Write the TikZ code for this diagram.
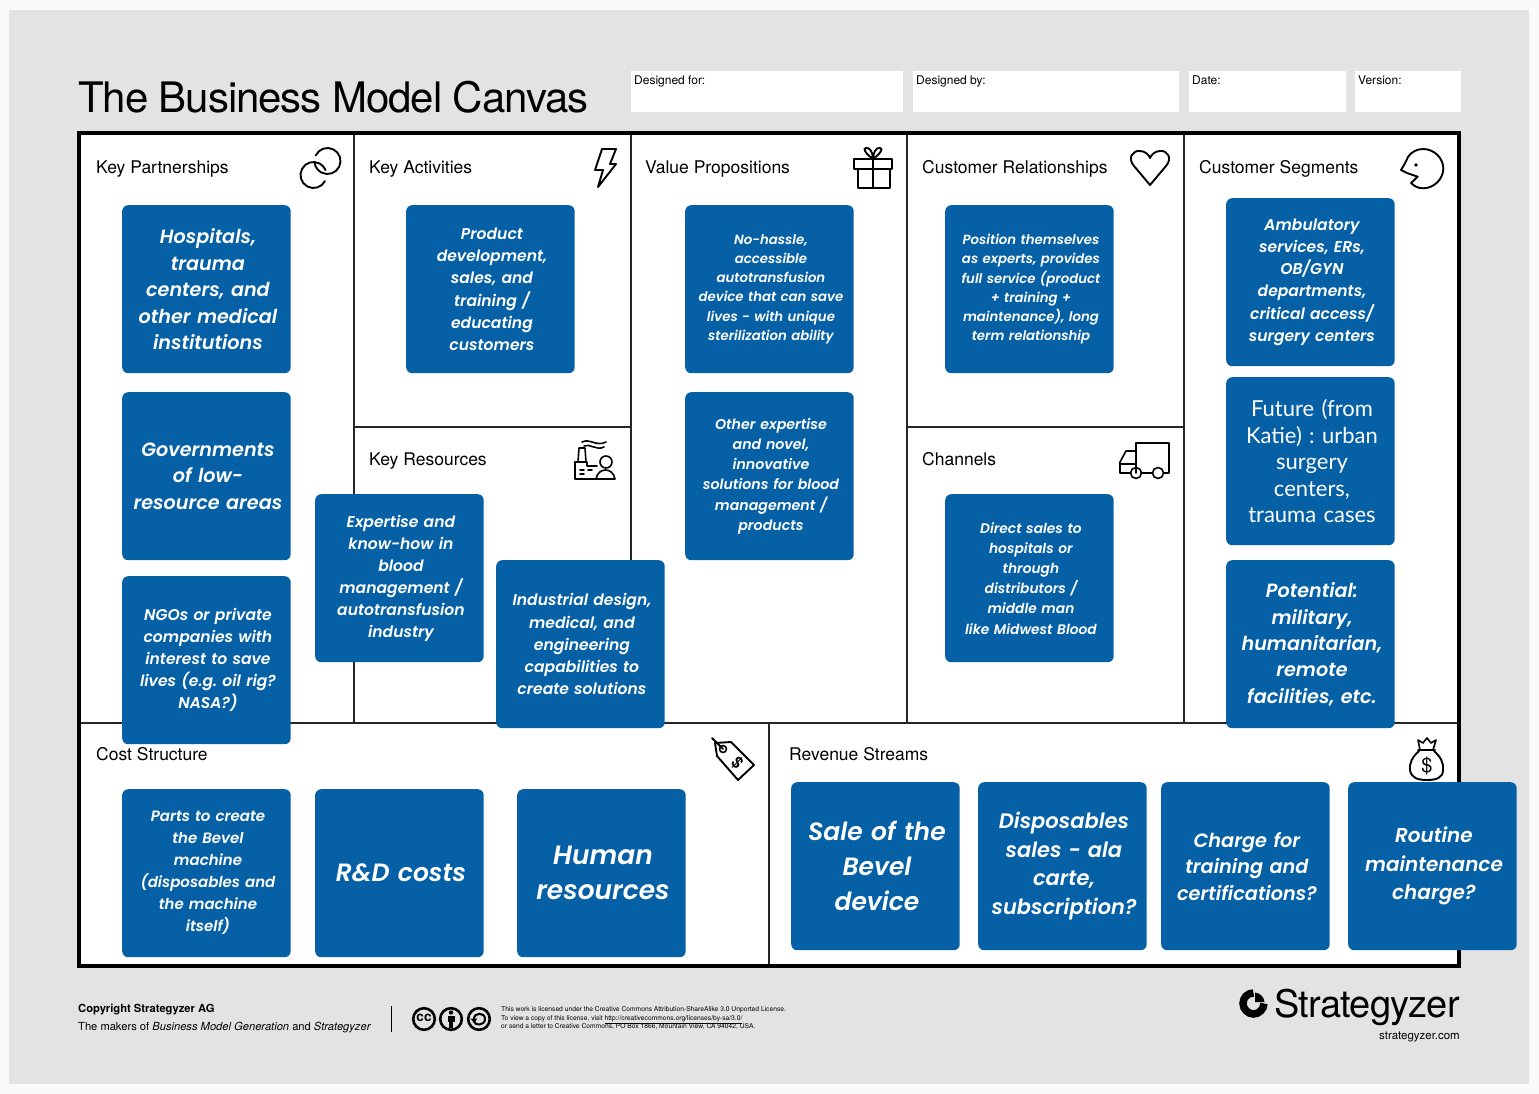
\documentclass[tikz,border=0pt]{standalone}
\usepackage{fontspec}
\setmainfont{TeX Gyre Heros}
\newfontfamily\cardfont{Lato}
\newfontfamily\cardboldfont[BoldItalicFont={Poppins SemiBold Italic}]{Poppins}
\definecolor{panelgray}{HTML}{E3E3E3}
\definecolor{pagewhite}{HTML}{FAFAFA}
\definecolor{cardblue}{HTML}{0560A6}
\tikzset{
card/.style={anchor=north west, fill=cardblue, rounded corners=6pt, minimum width=168.5pt, minimum height=168pt, text width=164pt, inner sep=0pt, text=white,
  execute at begin node={\leftskip=3pt plus 1fil\rightskip=0pt plus 1fil\parfillskip=0pt\parindent=0pt}},
cardb/.style 2 args={card, font=\cardboldfont\frenchspacing\fontsize{#1}{#2}\selectfont\bfseries\itshape},
cardr/.style 2 args={card, font=\cardfont\frenchspacing\fontsize{#1}{#2}\selectfont},
blockname/.style={anchor=base west, inner sep=0pt, font=\fontsize{17.5}{20}\selectfont},
fieldbox/.style={anchor=north west, fill=white, minimum height=41pt, inner sep=0pt},
fieldname/.style={anchor=base west, inner sep=0pt, font=\fontsize{12}{13}\selectfont},
gridline/.style={line width=1.6pt, draw=black!85},
icon/.style={line width=1.9pt, line join=round, line cap=round},
}
\begin{document}
\begin{tikzpicture}[x=1pt, y=-1pt]
\useasboundingbox (0,0) rectangle (1539,1094);
\fill[pagewhite] (0,0) rectangle (1539,1094);
\fill[panelgray] (9,10) rectangle (1529,1084);
\node[anchor=base west, inner sep=0pt, font=\fontsize{42}{48}\selectfont\addfontfeature{LetterSpace=-2.6}] (title) at (78,113) {The Business Model Canvas};
% fields on top
\node[fieldbox, minimum width=272pt] (forbox) at (631,71) {};
\node[fieldbox, minimum width=266pt] (bybox) at (913,71) {};
\node[fieldbox, minimum width=157pt] (datebox) at (1189,71) {};
\node[fieldbox, minimum width=106pt] (verbox) at (1355,71) {};
\node[fieldname] (forname) at (634,85) {Designed for:};
\node[fieldname] (byname) at (916,85) {Designed by:};
\node[fieldname] (datename) at (1192,85) {Date:};
\node[fieldname] (vername) at (1358,85) {Version:};
% canvas
\fill[white] (79,133) rectangle (1459,966);
\draw[gridline] (354,133) -- (354,723);
\draw[gridline] (631,133) -- (631,723);
\draw[gridline] (907,133) -- (907,723);
\draw[gridline] (1184,133) -- (1184,723);
\draw[gridline] (354,427) -- (631,427);
\draw[gridline] (907,427) -- (1184,427);
\draw[gridline] (79,723) -- (1459,723);
\draw[gridline] (769,723) -- (769,966);
\draw[line width=3.6pt] (79,133) rectangle (1459,966);
% block names
\node[blockname] (partners) at (96,174) {Key Partnerships};
\node[blockname] (activities) at (369,174) {Key Activities};
\node[blockname] (values) at (645,174) {Value Propositions};
\node[blockname] (relations) at (922,174) {Customer Relationships};
\node[blockname] (segments) at (1199,174) {Customer Segments};
\node[blockname] (resources) at (369,465) {Key Resources};
\node[blockname] (channels) at (922,465) {Channels};
\node[blockname] (costs) at (96,760) {Cost Structure};
\node[blockname] (revenue) at (789,760) {Revenue Streams};
% icons
\draw[icon] ([shift=(206:13)]327.5,161) arc[start angle=206, end angle=529, radius=13];
\draw[icon] ([shift=(28:13)]313.5,175) arc[start angle=28, end angle=338, radius=13];
\draw[icon] (602,149) -- (616,149) -- (610,164) -- (616,164) -- (598,187) -- (603,170) -- (595,170) -- cycle;
\draw[icon] (854,159) rectangle (892,169);
\draw[icon] (858,169) rectangle (890,188);
\draw[icon] (873,159) -- (873,188);
\draw[icon] (873,159) .. controls (866,154) and (862,148) .. (866,148) .. controls (870,147) and (873,153) .. (873,159) .. controls (873,153) and (876,147) .. (880,148) .. controls (884,148) and (880,154) .. (873,159);
\draw[icon] (1150,185) -- (1134,166) .. controls (1127,158) and (1133,150) .. (1140,151) .. controls (1145,151) and (1149,155) .. (1150,158) .. controls (1151,155) and (1155,151) .. (1160,151) .. controls (1167,150) and (1173,158) .. (1166,166) -- cycle;
\draw[icon] (1411,183) -- (1417.7,176.7) -- (1407.7,173.3) -- (1401,170) -- (1405,163.3) -- (1408,157) .. controls (1411,152) and (1417,149) .. (1423,149) .. controls (1434,149) and (1443.3,158) .. (1443.3,168.5) .. controls (1443.3,179) and (1434,188.3) .. (1423,188.3) .. controls (1418,188.3) and (1414,186) .. (1411,183);
\fill (1416,165) circle (1.9);
\draw[icon, line width=1.6pt] (582,442) .. controls (590,438) and (596,447) .. (606,442);
\draw[icon, line width=1.6pt] (584,446) .. controls (590,443) and (596,451) .. (604,447);
\draw[icon, line width=1.6pt] (578,462) -- (579,448) -- (585,448) -- (586,462);
\draw[icon, line width=1.6pt] (575,462) -- (575,479) -- (596,479);
\draw[icon, line width=1.6pt] (575,462) -- (587,462) -- (587,466) -- (597,466);
\draw[icon, line width=1.6pt] (580,470) -- (584,470) (588,470) -- (592,470) (580,474) -- (584,474);
\draw[icon, line width=1.6pt] (606,462) circle (6);
\draw[icon, line width=1.6pt] (596,479) .. controls (598,467) and (613,467) .. (615,479) -- cycle;
\draw[icon, line width=1.6pt] (1136,473) -- (1136,443) -- (1169,443) -- (1169,473) -- (1164,473);
\draw[icon, line width=1.6pt] (1152,473) -- (1141,473);
\draw[icon, line width=1.6pt] (1131,473) -- (1120,473) -- (1120,462) -- (1126,451) -- (1136,451);
\draw[icon, line width=1.6pt] (1120,464) -- (1136,464);
\draw[icon, line width=1.6pt] (1136,473) circle (5.5);
\draw[icon, line width=1.6pt] (1158,473) circle (5.5);
\draw[icon] (712,738) -- (723,749);
\draw[icon] (715,743) -- (731,742) -- (754,765) -- (738,780) -- (717,756) -- cycle;
\draw[icon, line width=1.6pt] (723,749) circle (3.5);
\node[rotate=-45, inner sep=0pt, font=\bfseries\fontsize{16}{16}\selectfont] (tagdollar) at (737,763) {\$};
\draw[icon] (1418,750) -- (1435,750);
\draw[icon, line width=1.6pt] (1420,750) -- (1418,740) -- (1423,743) -- (1427,738) -- (1431,743) -- (1436,740) -- (1433,750);
\draw[icon] (1419,751) .. controls (1412,757) and (1409,764) .. (1410,770) .. controls (1411,778) and (1418,780) .. (1427,780) .. controls (1436,780) and (1443,778) .. (1443,770) .. controls (1444,764) and (1441,757) .. (1434,751);
\node[inner sep=0pt, font=\fontsize{20}{20}\selectfont] (bagdollar) at (1427,766) {\$};
% key partnerships
\node[cardb={19.2}{26.4}] (partner1) at (122,205) {Hospitals,\\trauma\\centers, and\\other medical\\institutions};
\node[cardb={19.2}{26.4}] (partner2) at (122,392) {Governments\\of low-\\resource areas};
\node[cardb={15.6}{22}] (partner3) at (122,576) {NGOs or private\\companies with\\interest to save\\lives (e.g. oil rig?\\NASA?)};
% key activities, resources
\node[cardb={15.6}{22.2}] (activity1) at (406,205) {Product\\development,\\sales, and\\training /\\educating\\customers};
\node[cardb={15.6}{22}] (resource1) at (315,494) {Expertise and\\know-how in\\blood\\management /\\autotransfusion\\industry};
\node[cardb={15.6}{22.2}] (resource2) at (496,560) {Industrial design,\\medical, and\\engineering\\capabilities to\\create solutions};
% value propositions
\node[cardb={13.3}{19.2}] (value1) at (685,205) {No-hassle,\\accessible\\autotransfusion\\device that can save\\lives - with unique\\sterilization ability};
\node[cardb={14.2}{20.2}] (value2) at (685,392) {Other expertise\\and novel,\\innovative\\solutions for blood\\management /\\products};
% relationships, channels
\node[cardb={13.3}{19.2}] (relation1) at (945,205) {Position themselves\\as experts, provides\\full service (product\\+ training +\\maintenance), long\\term relationship};
\node[cardb={13.8}{20.2}] (channel1) at (945,494) {Direct sales to\\hospitals or\\through\\distributors /\\middle man\\like Midwest Blood};
% segments
\node[cardb={15.6}{22.2}] (segment1) at (1226,198) {Ambulatory\\services, ERs,\\OB/GYN\\departments,\\critical access/\\surgery centers};
\node[cardr={22}{26.4}] (segment2) at (1226,377) {Future (from\\Katie) : urban\\surgery\\centers,\\trauma cases};
\node[cardb={19.2}{26.4}] (segment3) at (1226,560) {Potential:\\military,\\humanitarian,\\remote\\facilities, etc.};
% costs
\node[cardb={15}{22}] (cost1) at (122,789) {Parts to create\\the Bevel\\machine\\(disposables and\\the machine\\itself)};
\node[cardb={25}{35}] (cost2) at (315,789) {R\&D costs};
\node[cardb={26.5}{35}] (cost3) at (517,789) {Human\\resources};
% revenue
\node[cardb={25}{35}] (stream1) at (791,782) {Sale of the\\Bevel\\device};
\node[cardb={21}{28.5}] (stream2) at (978,782) {Disposables\\sales - ala\\carte,\\subscription?};
\node[cardb={19.3}{26.5}] (stream3) at (1161,782) {Charge for\\training and\\certifications?};
\node[cardb={20}{28.5}] (stream4) at (1348,782) {Routine\\maintenance\\charge?};
% footer
\node[anchor=base west, inner sep=0pt, font=\bfseries\fontsize{11.2}{13}\selectfont] (copyright) at (78,1012) {Copyright Strategyzer AG};
\node[anchor=base west, inner sep=0pt, font=\fontsize{11.15}{13}\selectfont] (makers) at (78,1030) {The makers of \textit{Business Model Generation} and \textit{Strategyzer}};
\draw[line width=1pt] (391,1006) -- (391,1032);
\draw[line width=2.6pt] (424,1019) circle (10.8);
\draw[line width=2.6pt] (451,1019) circle (10.8);
\draw[line width=2.6pt] (479,1019) circle (10.8);
\node[inner sep=0pt, font=\bfseries\fontsize{13.5}{13}\selectfont] (ccmark) at (424,1018) {cc};
\fill (451,1012.5) circle (2.2);
\fill (447.5,1015.5) rectangle (454.5,1022);
\fill (449,1022) rectangle (453,1028);
\draw[line width=2pt] (474,1019) .. controls (474,1012) and (485,1012) .. (485,1019) .. controls (485,1026) and (474,1026) .. (474,1021);
\fill (470.5,1018.5) -- (477.5,1018.5) -- (474,1023) -- cycle;
\node[anchor=north west, inner sep=0pt, align=left, font=\fontsize{6.7}{8.8}\selectfont] (licence) at (501,1006) {This work is licensed under the Creative Commons Attribution-ShareAlike 3.0 Unported License.\\To view a copy of this license, visit \underline{http://creativecommons.org/licenses/by-sa/3.0/}\\or send a letter to Creative Commons, PO Box 1866, Mountain View, CA 94042, USA.};
\draw[line width=7.5pt] (1253.5,993) .. controls (1247,993) and (1243,998) .. (1243,1003.5) .. controls (1243,1009) and (1248,1014) .. (1253.5,1014) .. controls (1259,1014) and (1264,1009) .. (1264,1003.5);
\fill (1255,1002) -- (1255,992.5) .. controls (1260,993) and (1264,997) .. (1264.5,1002) -- cycle;
\node[anchor=base east, inner sep=0pt, font=\fontsize{38}{40}\selectfont\addfontfeature{LetterSpace=-2.1}] (logoname) at (1460,1017) {Strategyzer};
\node[anchor=base east, inner sep=0pt, font=\fontsize{11.5}{13}\selectfont] (logourl) at (1460,1039) {strategyzer.com};
\end{tikzpicture}
\end{document}
